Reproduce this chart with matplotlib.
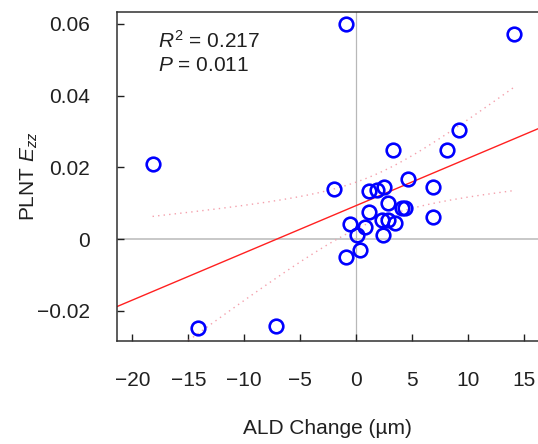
import matplotlib
matplotlib.use('Agg')
import matplotlib.pyplot as plt
from matplotlib import rcParams
import numpy as np

rcParams['font.family'] = ['Liberation Sans', 'DejaVu Sans']
rcParams['mathtext.fontset'] = 'custom'
rcParams['mathtext.rm'] = 'Liberation Sans'
rcParams['mathtext.it'] = 'Liberation Sans:italic'

# ALD change (um) vs PLNT Ezz
ald_change = [-0.9, 14.1, -18.2, 3.33, 8.15, 9.2, -14.1, -7.14,
              -2.0, 1.16, 1.9, 2.53, 4.6, 6.84, 2.8, 1.16, 4.1, 4.4,
              6.84, -0.54, 0.8, 2.3, 2.8, 3.48, 0.06, 2.38, 0.36, -0.92]
plnt_ezz = [0.0600, 0.0571, 0.0209, 0.0247, 0.0247, 0.0304, -0.0248, -0.0241,
            0.0140, 0.0135, 0.0137, 0.0145, 0.0168, 0.0146, 0.0100, 0.0075, 0.0086, 0.0086,
            0.0063, 0.0043, 0.0035, 0.0052, 0.0052, 0.0045, 0.0012, 0.0012, -0.0030, -0.0051]
r2_text = '$R^2$ = 0.217'
p_text = '$P$ = 0.011'

x = np.array(ald_change)
y = np.array(plnt_ezz)

# 直線回歸 + 95% 信賴帶
slope, icpt = np.polyfit(x, y, 1)
n = len(x)
resid = y - (slope * x + icpt)
s = np.sqrt(np.sum(resid**2) / (n - 2))
sxx = np.sum((x - x.mean())**2)
t_val = 2.056
xb = np.linspace(x.min(), x.max(), 200)
yb = slope * xb + icpt
half = t_val * s * np.sqrt(1 / n + (xb - x.mean())**2 / sxx)

fig = plt.figure(figsize=(5.38, 4.44), dpi=100)
ax = fig.add_axes([0.217, 0.2327, 0.783, 0.7403])
xlim = (-21.4, 16.25)
ax.set_xlim(*xlim)
ax.set_ylim(-0.0283, 0.0633)

ax.axhline(0, color='#c8c8c8', lw=1.4, zorder=1)
ax.axvline(0, color='#b8b8b8', lw=0.9, zorder=1)

xl = np.array(xlim)
ax.plot(xl, slope * xl + icpt, color='#ff2020', lw=1.0, zorder=2)
ax.plot(xb, yb + half, color='#f4a0ac', lw=1.0, ls=(0, (1, 3)), zorder=2)
ax.plot(xb, yb - half, color='#f4a0ac', lw=1.0, ls=(0, (1, 3)), zorder=2)

ax.plot(x, y, 'o', ms=9.8, mfc='none', mec='#0000ff', mew=1.9, zorder=3)

ax.text(0.098, 0.8905, r2_text, transform=ax.transAxes, fontsize=15,
        va='baseline', ha='left', color='#202020')
ax.text(0.098, 0.8205, p_text, transform=ax.transAxes, fontsize=15,
        va='baseline', ha='left', color='#202020')

ax.set_xticks(range(-20, 16, 5))
ax.set_xticklabels([f'{v}'.replace('-', '\u2212') for v in range(-20, 16, 5)])
ax.set_yticks([-0.02, 0, 0.02, 0.04, 0.06])
ax.set_yticklabels(['\u22120.02', '0', '0.02', '0.04', '0.06'])
ax.tick_params(direction='in', length=5, width=1, labelsize=15, colors='#202020')
ax.tick_params(axis='x', pad=22)
ax.tick_params(axis='y', pad=19)

for side in ['left', 'bottom', 'top']:
    ax.spines[side].set_color('#303030')
    ax.spines[side].set_linewidth(1.1)
ax.spines['right'].set_visible(False)

ax.set_xlabel('ALD Change (\u00b5m)', fontsize=15, labelpad=21, color='#202020')
ax.set_ylabel('PLNT $E_{zz}$', fontsize=15, labelpad=-2, color='#202020')

fig.savefig('out.png', dpi=100)
